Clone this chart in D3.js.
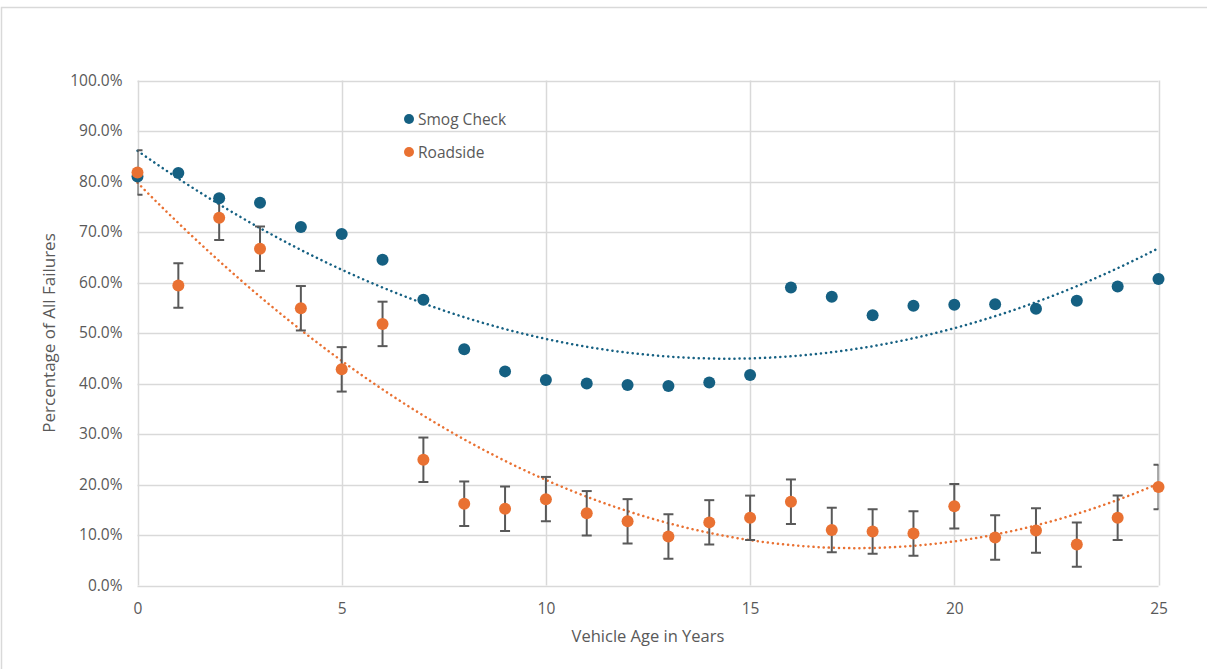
<!DOCTYPE html>
<html><head><meta charset="utf-8">
<script src="https://cdn.jsdelivr.net/npm/d3@7"></script>
<style>
html,body{margin:0;padding:0;background:#fff;}
svg{display:block;font-family:"Open Sans","Liberation Sans",Arial,sans-serif;}
</style></head>
<body>
<svg id="chart" width="1207" height="669"></svg>
<script>
const ages = d3.range(0, 26);
const smogCheck = [81.0,81.7,76.7,75.8,71.0,69.6,64.5,56.6,46.8,42.4,40.7,40.0,39.7,39.5,40.2,41.7,59.0,57.2,53.5,55.4,55.6,55.7,54.8,56.4,59.2,60.7];
const roadside  = [81.8,59.4,72.8,66.7,54.9,42.8,51.8,24.9,16.2,15.2,17.1,14.3,12.7,9.7,12.5,13.4,16.6,11.0,10.7,10.3,15.7,9.5,10.9,8.1,13.4,19.5];
const roadsideErr = ages.map(() => 4.4);
const xTicks = [0,5,10,15,20,25];
const yTicks = [0,10,20,30,40,50,60,70,80,90,100];
const seriesNames = ["Smog Check","Roadside"];
const colors = ["#156082","#E97132"];

const svg = d3.select("#chart");
const L = 137.5, R = 1158.5, T = 80.5, B = 585.5;
const x = d3.scaleLinear().domain([0,25]).range([L,R]);
const y = d3.scaleLinear().domain([0,100]).range([B,T]);

// chart border
svg.append("rect").attr("x",1.5).attr("y",7.5).attr("width",1230).attr("height",700)
  .attr("fill","none").attr("stroke","#d9d9d9").attr("stroke-width",1.5);

// gridlines
const grid = svg.append("g");
grid.selectAll(".hg").data(yTicks).join("line")
  .attr("x1",L).attr("x2",R).attr("y1",d=>Math.round(y(d))+0.5).attr("y2",d=>Math.round(y(d))+0.5)
  .attr("stroke","#d9d9d9").attr("stroke-width",1.5);
grid.selectAll(".vg").data(xTicks).join("line")
  .attr("y1",T).attr("y2",B).attr("x1",d=>Math.round(x(d))+0.5).attr("x2",d=>Math.round(x(d))+0.5)
  .attr("stroke","#d9d9d9").attr("stroke-width",1.5);

// axes labels via d3 axes
const xAxis = svg.append("g").attr("transform",`translate(0,${B+12})`)
  .call(d3.axisBottom(x).tickValues(xTicks).tickSize(0).tickPadding(5));
const yAxis = svg.append("g").attr("transform",`translate(${L-15},0)`)
  .call(d3.axisLeft(y).tickValues(yTicks).tickSize(0).tickPadding(0).tickFormat(d=>d.toFixed(1)+"%"));
[xAxis,yAxis].forEach(a=>{
  a.select(".domain").remove();
  a.selectAll("text").attr("fill","#595959").style("font-size","15.5px")
   .style("font-family",'"Open Sans","Liberation Sans",Arial,sans-serif');
});

// clip
svg.append("clipPath").attr("id","clip").append("rect")
  .attr("x",L).attr("y",T).attr("width",R-L).attr("height",B-T);

// quadratic least-squares trendline
function quadFit(xs, ys){
  let n=xs.length,s=[0,0,0,0,0],t=[0,0,0];
  for(let i=0;i<n;i++){const xi=xs[i],yi=ys[i];
    for(let k=0;k<5;k++) s[k]+=Math.pow(xi,k);
    for(let k=0;k<3;k++) t[k]+=yi*Math.pow(xi,k);}
  const A=[[s[0],s[1],s[2],t[0]],[s[1],s[2],s[3],t[1]],[s[2],s[3],s[4],t[2]]];
  for(let i=0;i<3;i++){for(let j=i+1;j<3;j++){const f=A[j][i]/A[i][i];for(let k=i;k<4;k++)A[j][k]-=f*A[i][k];}}
  const c=[0,0,0];
  for(let i=2;i>=0;i--){let v=A[i][3];for(let k=i+1;k<3;k++)v-=A[i][k]*c[k];c[i]=v/A[i][i];}
  return xv=>c[0]+c[1]*xv+c[2]*xv*xv;
}
const line = d3.line().x(d=>x(d[0])).y(d=>y(d[1]));
[smogCheck, roadside].forEach((vals,i)=>{
  const f = quadFit(ages, vals);
  const pts = d3.range(0,25.001,0.25).map(a=>[a,f(a)]);
  svg.append("path").datum(pts).attr("d",line).attr("fill","none")
    .attr("stroke",colors[i]).attr("stroke-width",2.5).attr("stroke-dasharray","0.1 5")
    .attr("stroke-linecap","round");
});

// error bars (roadside)
const eb = svg.append("g").attr("clip-path","url(#clip)").attr("stroke","#595959").attr("stroke-width",2);
ages.forEach((a,i)=>{
  const top=y(roadside[i]+roadsideErr[i]), bot=y(roadside[i]-roadsideErr[i]), cx=x(a);
  eb.append("line").attr("x1",cx).attr("x2",cx).attr("y1",top).attr("y2",bot);
  eb.append("line").attr("x1",cx-5).attr("x2",cx+5).attr("y1",top).attr("y2",top);
  eb.append("line").attr("x1",cx-5).attr("x2",cx+5).attr("y1",bot).attr("y2",bot);
});

// points
[smogCheck, roadside].forEach((vals,i)=>{
  svg.append("g").selectAll("circle").data(ages).join("circle")
    .attr("cx",d=>x(d)).attr("cy",(d,j)=>y(vals[j])).attr("r",6).attr("fill",colors[i]);
});

// legend
const lg = svg.append("g");
seriesNames.forEach((nm,i)=>{
  const ly = 119 + i*33;
  lg.append("circle").attr("cx",409).attr("cy",ly).attr("r",5).attr("fill",colors[i]);
  lg.append("text").attr("x",418).attr("y",ly+5.5).text(nm).attr("fill","#595959").style("font-size","15.5px");
});

// axis titles
svg.append("text").attr("x",(L+R)/2).attr("y",642).attr("text-anchor","middle")
  .attr("fill","#595959").style("font-size","16.5px").text("Vehicle Age in Years");
svg.append("text").attr("transform",`translate(55,${(T+B)/2}) rotate(-90)`).attr("text-anchor","middle")
  .attr("fill","#595959").style("font-size","17px").text("Percentage of All Failures");
</script>
</body></html>
